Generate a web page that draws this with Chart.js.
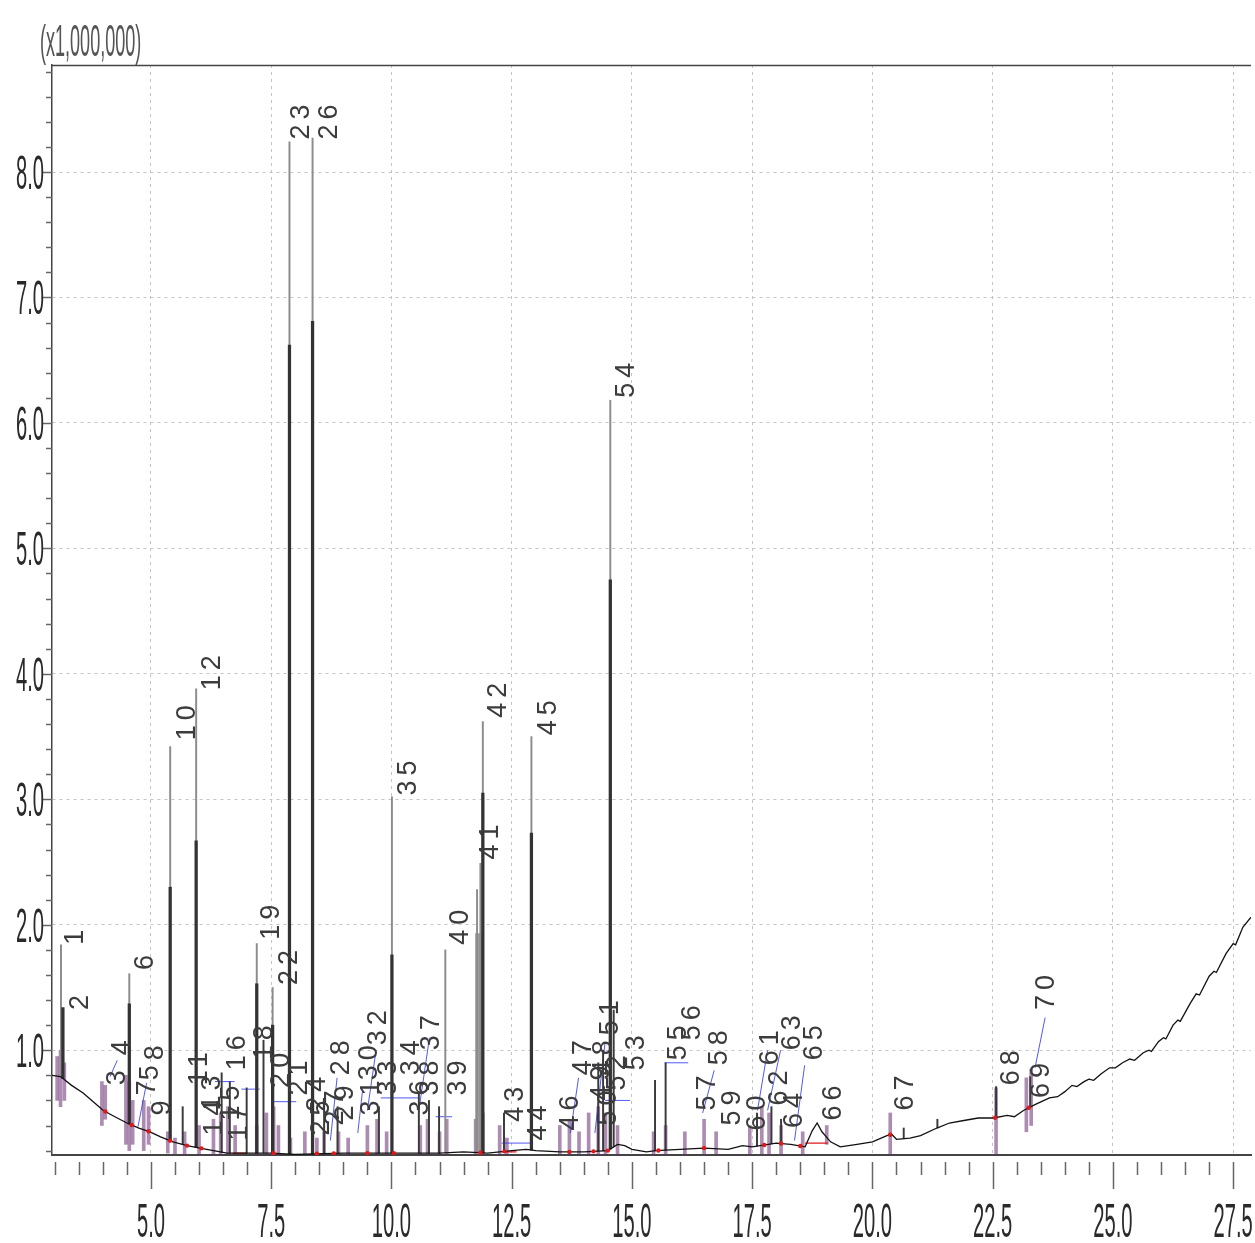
<!DOCTYPE html>
<html>
<head>
<meta charset="utf-8">
<script src="https://cdn.jsdelivr.net/npm/chart.js@4.4.1/dist/chart.umd.min.js"></script>
<style>
html,body{margin:0;padding:0;background:#fff;}
#wrap{width:1255px;height:1243px;position:relative;}
</style>
</head>
<body>
<div id="wrap"><canvas id="c"></canvas></div>
<script>
// ---------- tick labels ----------
const xTickValues = [5.0, 7.5, 10.0, 12.5, 15.0, 17.5, 20.0, 22.5, 25.0, 27.5];
const xTickLabels = ['5.0','7.5','10.0','12.5','15.0','17.5','20.0','22.5','25.0','27.5'];
const yTickValues = [1, 2, 3, 4, 5, 6, 7, 8];
const yTickLabels = ['1.0','2.0','3.0','4.0','5.0','6.0','7.0','8.0'];
const yUnitLabel = '(x1,000,000)';

// ---------- baseline (drift) of the chromatogram ----------
const baseRT  = [2.94,3.12,3.35,3.59,3.80,4.01,4.25,4.50,4.75,4.98,5.20,5.46,5.75,6.02,6.30,6.58,7.00,7.50,8.00,9.00,10.0,11.0,11.5,12.0,12.5,12.8,13.0,13.5,14.0,14.5,14.7,14.85,15.0,15.3,15.5,16.0,16.5,17.0,17.3,17.5,18.0,18.3,18.6,18.75,18.85,18.95,19.13,19.33,19.68,20.0,20.3,20.4,20.5,20.78,21.0,21.34,21.6,21.9,22.2,22.52,22.8,22.95,23.14,23.4,23.68,23.85,24.0,24.15,24.25,24.4,24.5,24.6,24.75,24.93,25.05,25.2,25.35,25.45,25.63,25.75,25.8,25.95,26.05,26.1,26.25,26.35,26.4,26.6,26.73,26.8,27.0,27.1,27.15,27.35,27.5,27.55,27.70,27.87];
const baseVal = [0.80,0.79,0.72,0.66,0.59,0.52,0.47,0.42,0.38,0.35,0.31,0.27,0.24,0.22,0.20,0.18,0.18,0.18,0.17,0.18,0.18,0.18,0.19,0.18,0.20,0.21,0.20,0.19,0.19,0.20,0.25,0.24,0.21,0.19,0.20,0.21,0.22,0.21,0.24,0.23,0.26,0.25,0.23,0.36,0.42,0.35,0.27,0.23,0.25,0.27,0.32,0.33,0.29,0.30,0.32,0.38,0.42,0.44,0.46,0.46,0.48,0.47,0.52,0.57,0.62,0.63,0.67,0.72,0.71,0.75,0.77,0.76,0.81,0.86,0.86,0.90,0.93,0.92,0.98,1.00,0.99,1.07,1.10,1.09,1.20,1.24,1.23,1.37,1.45,1.44,1.59,1.63,1.62,1.77,1.85,1.84,1.98,2.06];

// ---------- main peaks: thin (TIC) trace heights ----------
const peakRT  = [3.13,4.55,5.40,5.94,7.20,7.53,7.88,8.36,10.01,11.12,11.78,11.85,11.90,12.91,14.55];
const peakTop = [1.84,1.61,3.42,3.88,1.85,1.50,8.24,8.27,3.02,1.80,2.28,2.49,3.62,3.50,6.18];

// ---------- main peaks: bold trace heights ----------
const boldRT  = [3.17,4.55,5.40,5.94,7.20,7.53,7.88,8.36,10.01,11.90,12.91,14.55];
const boldTop = [1.34,1.37,2.30,2.67,1.53,1.20,6.62,6.81,1.76,3.05,2.73,4.75];

// ---------- broad unresolved band ----------
const bandRT  = [11.82];
const bandTop = [1.93];

// ---------- minor peaks ----------
const minorRT  = [5.66,6.47,6.64,6.99,7.34,8.60,8.88,9.74,10.57,10.78,10.99,12.34,14.30,14.40,14.62,15.48,15.70,17.60,17.90,18.10,20.65,21.35,22.57,23.28];
const minorTop = [0.55,0.82,0.75,0.70,1.08,0.60,0.55,0.55,0.65,0.60,0.55,0.50,0.90,1.00,1.32,0.76,0.90,0.50,0.55,0.45,0.38,0.45,0.71,0.79];

// ---------- integration marks (purple clusters) ----------
const clusterRT = [3.05,3.12,3.20,3.98,4.05,4.48,4.55,4.62,4.85,4.95,5.35,5.50,5.70,6.00,6.30,6.45,6.60,6.75,7.20,7.40,7.55,7.65,7.90,8.20,8.45,8.60,8.90,9.10,9.50,9.70,9.90,10.60,10.75,11.00,11.15,11.75,11.90,12.25,12.40,13.50,13.70,13.90,14.10,14.30,14.45,14.70,15.45,15.70,16.10,16.50,16.75,17.45,17.70,17.85,18.10,18.55,19.05,20.37,22.57,23.20,23.30];
const clusterLo = [0.60,0.55,0.60,0.40,0.45,0.25,0.20,0.25,0.20,0.25,0.18,0.17,0.17,0.17,0.17,0.17,0.17,0.17,0.17,0.17,0.17,0.17,0.17,0.17,0.17,0.17,0.17,0.17,0.17,0.17,0.17,0.17,0.17,0.17,0.17,0.17,0.17,0.17,0.17,0.17,0.17,0.17,0.17,0.17,0.17,0.17,0.17,0.17,0.17,0.17,0.17,0.17,0.17,0.17,0.17,0.17,0.25,0.17,0.17,0.35,0.40];
const clusterHi = [0.95,1.00,0.90,0.75,0.72,0.80,0.75,0.60,0.60,0.55,0.35,0.30,0.35,0.40,0.45,0.50,0.55,0.40,0.40,0.50,0.55,0.40,0.30,0.35,0.30,0.35,0.35,0.30,0.40,0.45,0.35,0.40,0.45,0.35,0.45,0.45,0.50,0.40,0.30,0.40,0.45,0.35,0.50,0.55,0.50,0.40,0.35,0.40,0.35,0.45,0.35,0.40,0.55,0.50,0.40,0.35,0.40,0.50,0.70,0.78,0.85];

// ---------- peak base markers ----------
const markRT = [4.05,4.60,4.95,5.40,5.75,6.05,7.55,8.45,8.80,9.50,10.05,11.85,12.35,13.70,14.20,14.50,15.55,16.50,17.75,18.10,18.50,20.37,22.55,23.25];

// ---------- annotation leader lines (blue), null separates segments ----------
const leaderRT  = [4.15,4.30,null, 4.73,4.91,null, 6.33,6.74,null, 6.88,7.26,null, 7.51,8.02,null, 8.87,8.73,null, 9.68,9.50,null, 9.40,9.30,null, 9.78,10.57,null, 10.79,10.57,null, 10.92,11.26,null, 12.29,12.91,null, 13.89,13.72,null, 14.44,14.23,null, 14.44,14.96,null, 15.68,16.17,null, 16.71,16.47,null, 17.82,17.61,null, 18.09,17.82,null, 18.59,18.38,null, 23.59,23.38];
const leaderVal = [0.79,0.92,null, 0.39,0.74,null, 0.75,0.75,null, 0.69,0.69,null, 0.59,0.59,null, 0.78,0.28,null, 1.00,0.52,null, 0.68,0.34,null, 0.62,0.62,null, 1.10,0.52,null, 0.47,0.47,null, 0.26,0.26,null, 0.78,0.34,null, 1.06,0.34,null, 0.60,0.60,null, 0.90,0.90,null, 0.84,0.50,null, 1.00,0.52,null, 1.00,0.52,null, 0.88,0.28,null, 1.26,0.86];

// ---------- integration baselines (red) ----------
const intRT  = [18.60,19.07,null, 12.30,12.60,null, 6.70,7.00];
const intVal = [0.26,0.26,null, 0.19,0.19,null, 0.18,0.18];

// ---------- peak number labels ----------
const labelText = ['1','2','3','4','5','6','7','8','9','10','11','12','13','14','15','16','17','18','19','20','21','22','23','24','25','26','27','28','29','30','31','32','33','34','35','36','37','38','39','40','41','42','43','44','45','46','47','48','49','50','51','52','53','54','55','56','57','58','59','60','61','62','63','64','65','66','67','68','69','70'];
const labelRT  = [3.43,3.53,4.30,4.40,5.00,4.88,4.92,5.10,5.25,5.77,6.02,6.28,6.28,6.33,6.68,6.80,6.84,7.36,7.51,7.71,8.09,7.88,8.13,8.46,8.54,8.71,8.83,8.96,9.04,9.54,9.58,9.74,9.95,10.41,10.36,10.61,10.84,10.82,11.40,11.44,12.06,12.23,12.58,13.06,13.26,13.72,13.99,14.40,14.36,14.51,14.55,14.71,15.09,14.88,15.96,16.27,16.58,16.83,17.10,17.61,17.88,18.07,18.34,18.38,18.79,19.19,20.68,22.90,23.52,23.62];
const labelVal = [1.84,1.32,0.72,0.96,0.76,1.64,0.64,0.92,0.48,3.47,0.72,3.87,0.52,0.32,0.44,0.84,0.28,0.92,1.88,0.70,0.64,1.52,8.26,0.51,0.32,8.26,0.40,0.80,0.44,0.76,0.48,1.04,0.64,0.80,3.03,0.48,1.00,0.64,0.64,1.84,2.52,3.65,0.43,0.28,3.51,0.36,0.80,0.80,0.60,0.40,1.12,0.68,0.84,6.20,0.92,1.08,0.52,0.88,0.40,0.36,0.88,0.56,1.00,0.38,0.92,0.44,0.52,0.72,0.62,1.32];

// ---------- helpers that build library data from the arrays ----------
function baseAt(rt){
  if (rt <= baseRT[0]) return baseVal[0];
  for (let i = 1; i < baseRT.length; i++){
    if (rt <= baseRT[i]){
      const t = (rt - baseRT[i-1])/(baseRT[i]-baseRT[i-1]);
      return baseVal[i-1] + t*(baseVal[i]-baseVal[i-1]);
    }
  }
  return baseVal[baseVal.length-1];
}
const floatBars = (xs, tops) => xs.map((x,i)=>({x:x, y:[baseAt(x), tops[i]]}));
const pairs = (xs, ys) => xs.map((x,i)=>({x:(x===null? NaN : x), y:ys[i]}));

const baselineData = baseRT.map((x,i)=>({x:x, y:baseVal[i]}));
const clusterData = clusterRT.map((x,i)=>({x:x, y:[clusterLo[i], clusterHi[i]]}));
const markData = markRT.map(x=>({x:x, y:baseAt(x)}));

const X_MIN = 2.943, X_MAX = 27.87, Y_MIN = 0.165, Y_MAX = 8.853;
const narrowFont = '48px "Liberation Sans", Arial, sans-serif';

const overlay = {
  id: 'overlay',
  afterDatasetsDraw(chart){
    const ctx = chart.ctx, xs = chart.scales.x, ys = chart.scales.y, ca = chart.chartArea;
    ctx.save();
    ctx.beginPath(); ctx.rect(ca.left, ca.top - 60, ca.right - ca.left, ca.bottom - ca.top + 60); ctx.clip();
    ctx.fillStyle = '#3c3c3c';
    ctx.font = '27px "Liberation Sans", Arial, sans-serif';
    ctx.textAlign = 'left';
    ctx.textBaseline = 'middle';
    try { ctx.letterSpacing = '5px'; } catch(e){}
    for (let i = 0; i < labelText.length; i++){
      const px = xs.getPixelForValue(labelRT[i]);
      const py = ys.getPixelForValue(labelVal[i]);
      ctx.save();
      ctx.translate(px, py);
      ctx.rotate(-Math.PI/2);
      ctx.fillText(labelText[i], 0, 0);
      ctx.restore();
    }
    ctx.restore();
  },
  afterDraw(chart){
    const ctx = chart.ctx, xs = chart.scales.x, ys = chart.scales.y, ca = chart.chartArea;
    ctx.save();
    // top frame line
    ctx.strokeStyle = '#444'; ctx.lineWidth = 1.5;
    ctx.beginPath(); ctx.moveTo(ca.left, ca.top + 0.5); ctx.lineTo(ca.right, ca.top + 0.5); ctx.stroke();
    // x tick marks
    ctx.strokeStyle = '#666'; ctx.lineWidth = 1.5;
    for (let k = 6; k <= 55; k++){
      const v = k*0.5;
      const px = Math.round(xs.getPixelForValue(v)) + 0.5;
      const major = (k % 5 === 0);
      ctx.beginPath(); ctx.moveTo(px, ca.bottom + 7); ctx.lineTo(px, ca.bottom + (major ? 34 : 20)); ctx.stroke();
    }
    // y tick marks
    for (let k = 1; k <= 44; k++){
      const v = k*0.2;
      if (v < Y_MIN || v > Y_MAX) continue;
      const py = Math.round(ys.getPixelForValue(v)) + 0.5;
      const major = (k % 5 === 0);
      ctx.beginPath(); ctx.moveTo(ca.left - (major ? 10 : 6), py); ctx.lineTo(ca.left, py); ctx.stroke();
    }
    // tick labels (condensed)
    ctx.fillStyle = '#2a2a2a';
    ctx.font = narrowFont;
    ctx.textBaseline = 'alphabetic';
    ctx.textAlign = 'center';
    xs.ticks.forEach(t => {
      const idx = xTickValues.indexOf(t.value);
      if (idx < 0) return;
      const px = xs.getPixelForValue(t.value);
      ctx.save(); ctx.translate(px, ca.bottom + 82); ctx.scale(0.42, 1);
      ctx.fillText(xTickLabels[idx], 0, 0); ctx.restore();
    });
    ctx.textAlign = 'right';
    ys.ticks.forEach(t => {
      const idx = yTickValues.indexOf(t.value);
      if (idx < 0) return;
      const py = ys.getPixelForValue(t.value);
      ctx.save(); ctx.translate(ca.left - 8, py + 17); ctx.scale(0.42, 1);
      ctx.fillText(yTickLabels[idx], 0, 0); ctx.restore();
    });
    // unit label
    ctx.fillStyle = '#555';
    ctx.textAlign = 'left';
    ctx.save(); ctx.translate(40, 56); ctx.scale(0.41, 1);
    ctx.font = '44px "Liberation Sans", Arial, sans-serif';
    ctx.fillText(yUnitLabel, 0, 0); ctx.restore();
    ctx.restore();
  }
};

const barCommon = { type: 'bar', grouped: false, borderWidth: 0, borderSkipped: false };

new Chart(document.getElementById('c'), {
  type: 'bar',
  data: {
    datasets: [
      Object.assign({}, barCommon, { label: 'integration', data: clusterData, backgroundColor: 'rgba(105,45,115,0.55)', barThickness: 3, order: 8 }),
      Object.assign({}, barCommon, { label: 'band', data: floatBars(bandRT, bandTop), backgroundColor: 'rgba(140,140,140,0.85)', barThickness: 7, order: 7 }),
      { type: 'line', label: 'leaders', data: pairs(leaderRT, leaderVal), borderColor: 'rgba(50,60,240,0.85)', borderWidth: 1, pointRadius: 0, tension: 0, fill: false, spanGaps: false, order: 6 },
      { type: 'line', label: 'int', data: pairs(intRT, intVal), borderColor: '#e01818', borderWidth: 1.2, pointRadius: 0, tension: 0, fill: false, spanGaps: false, order: 5 },
      Object.assign({}, barCommon, { label: 'minor', data: floatBars(minorRT, minorTop), backgroundColor: '#3a3a3a', barThickness: 1.3, order: 4 }),
      Object.assign({}, barCommon, { label: 'TIC', data: floatBars(peakRT, peakTop), backgroundColor: '#8c8c8c', barThickness: 1.3, order: 3 }),
      Object.assign({}, barCommon, { label: 'bold', data: floatBars(boldRT, boldTop), backgroundColor: '#333', barThickness: 2.6, order: 2 }),
      { type: 'line', label: 'baseline', data: baselineData, borderColor: '#111', borderWidth: 1.3, pointRadius: 0, tension: 0, fill: false, order: 1 },
      { type: 'scatter', label: 'marks', data: markData, pointRadius: 2.2, pointBackgroundColor: '#e01818', pointBorderWidth: 0, order: 0 }
    ]
  },
  options: {
    responsive: true,
    maintainAspectRatio: false,
    animation: false,
    events: [],
    layout: { padding: { left: 52, top: 65, right: 0, bottom: 88 } },
    plugins: { legend: { display: false }, tooltip: { enabled: false } },
    scales: {
      x: {
        type: 'linear', min: X_MIN, max: X_MAX, offset: false,
        afterBuildTicks: s => { s.ticks = xTickValues.map(v => ({ value: v })); },
        ticks: { display: false },
        grid: { color: '#c4c4c4', lineWidth: 1, drawTicks: false, offset: false },
        border: { display: true, color: '#444', width: 2, dash: [3, 4] }
      },
      y: {
        type: 'linear', min: Y_MIN, max: Y_MAX,
        afterBuildTicks: s => { s.ticks = yTickValues.map(v => ({ value: v })); },
        ticks: { display: false },
        grid: { color: '#c4c4c4', lineWidth: 1, drawTicks: false },
        border: { display: true, color: '#444', width: 1.5, dash: [3, 4] }
      }
    }
  },
  plugins: [overlay]
});
</script>
</body>
</html>
